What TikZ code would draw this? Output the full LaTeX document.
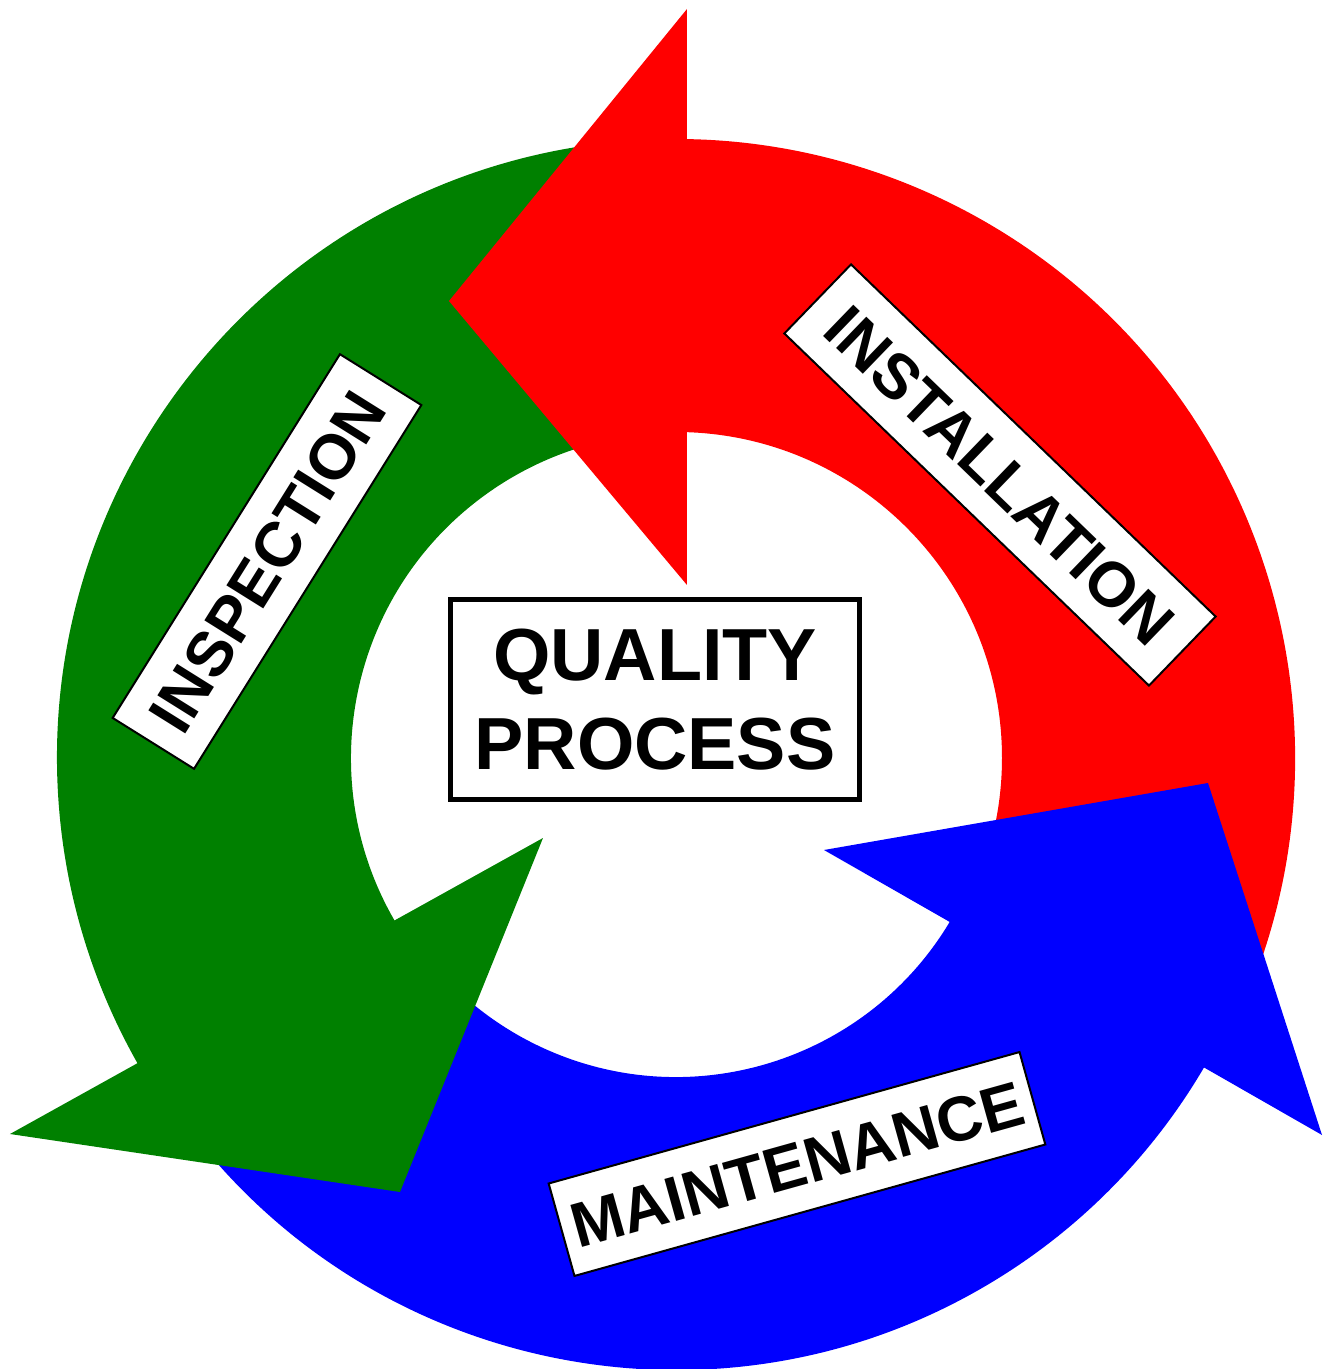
\documentclass[tikz,border=0pt]{standalone}
\usepackage{fontspec}
\setmainfont{Liberation Sans}
\usepackage{tikz}
\definecolor{ringred}{RGB}{255,0,0}
\definecolor{ringgreen}{RGB}{0,128,0}
\definecolor{ringblue}{RGB}{0,0,255}
\tikzstyle{tag}=[draw=black, fill=white, line width=0.04cm, inner sep=0pt, minimum height=1.92cm, text height=0.9cm, text depth=0pt, font=\fontsize{36}{43}\selectfont\bfseries]

\begin{document}
\begin{tikzpicture}[x=0.02cm, y=0.02cm]
        \useasboundingbox (-676,-611) rectangle (646,758);

        % Shafts
        \foreach \from/\to/\R/\r/\col in {-28/90/619/326/ringred, 95/214/619/325/ringgreen, 213/335/612/319/ringblue}
          \fill [\col] (\from:\R) arc [start angle=\from, end angle=\to, radius=\R]
            -- (\to:\r) arc [start angle=\to, end angle=\from, radius=\r] -- cycle;

        % Heads
        \fill [ringred] (11,749) -- (-227,457) -- (11,173) -- cycle;
        \fill [ringgreen] (-666,-376) -- (-276,-434) -- (-133,-80) -- cycle;
        \fill [ringblue] (148,-92) -- (532,-25) -- (646,-377) -- cycle;

        % Labels
        \node at (324, 283) [tag, rotate=-44, minimum width=10.14cm] (install) {INSTALLATION};
        \node at (-409, 196.5) [tag, rotate=58, minimum width=8.58cm] (inspect) {INSPECTION};
        \node at (121, -406) [tag, rotate=15.6, minimum width=9.78cm] (maint) {MAINTENANCE};

        % Centre
        \node at (-21, 58.5) [draw=black, line width=0.09cm, inner sep=0pt, minimum width=8.19cm, minimum height=4.01cm,
          align=center, font=\fontsize{42}{51}\selectfont\bfseries] (quality) {QUALITY\\PROCESS};
      \end{tikzpicture}
\end{document}
